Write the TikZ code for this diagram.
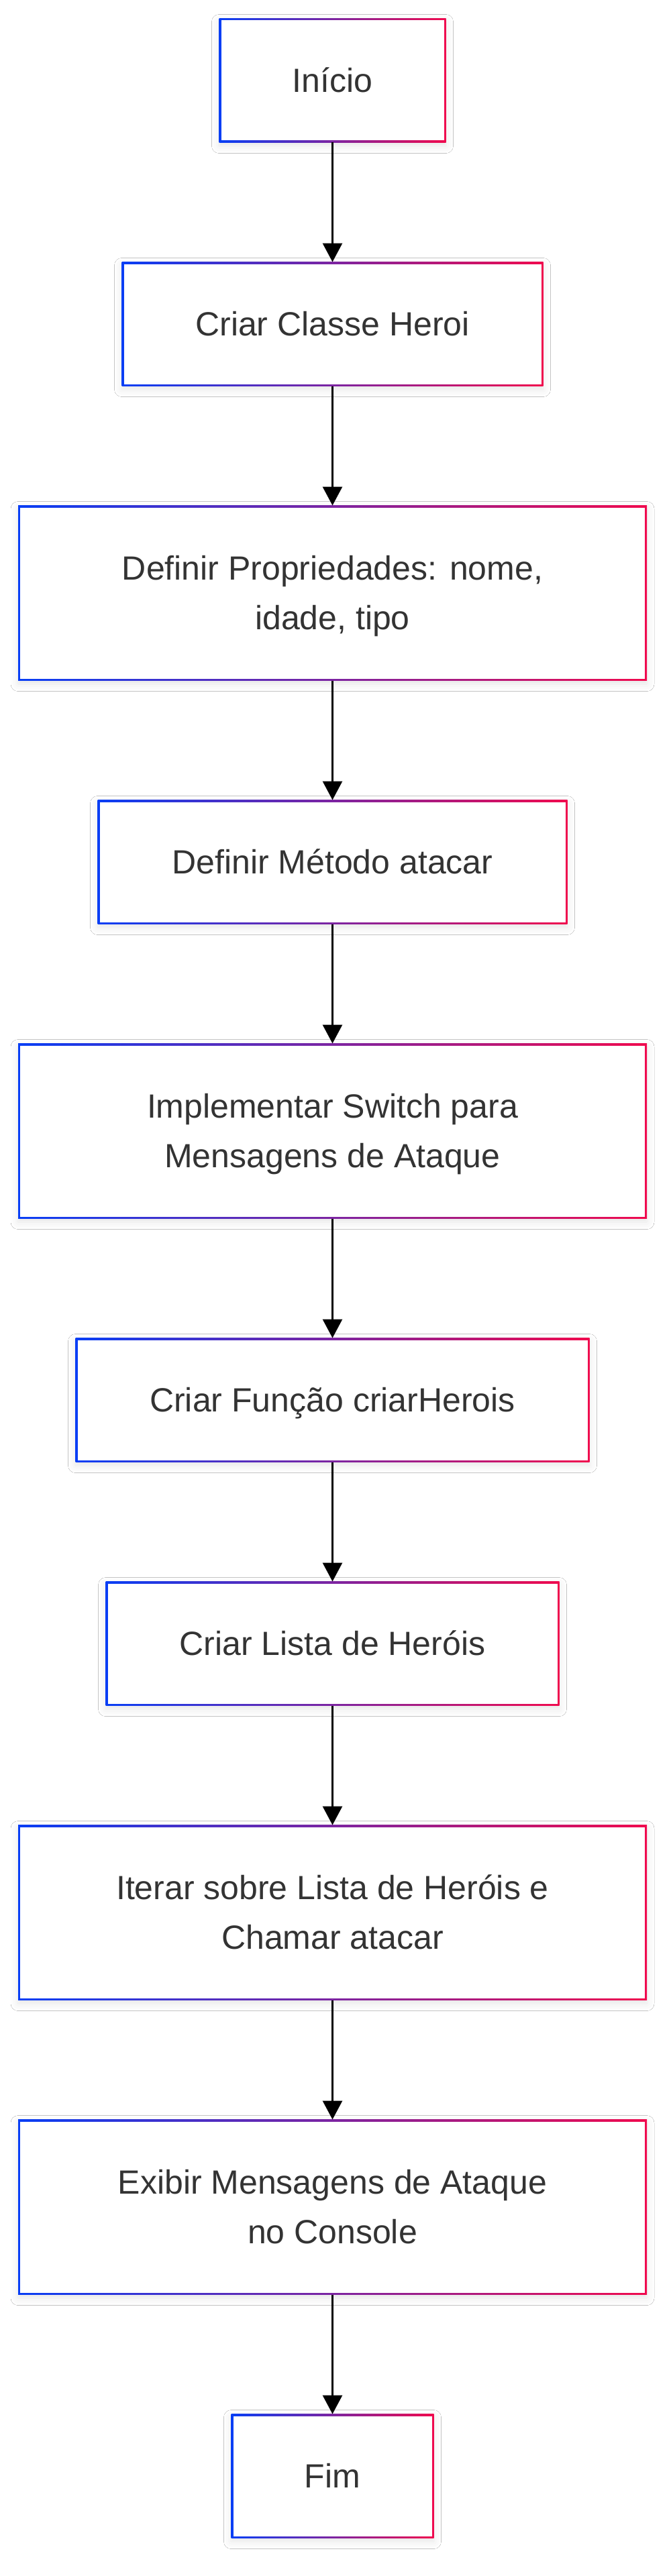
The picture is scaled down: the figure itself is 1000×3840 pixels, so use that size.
\documentclass[tikz,border=0pt]{standalone}
\usepackage{fontspec}
\setmainfont{Liberation Sans}
\usetikzlibrary{arrows.meta,shadows.blur}
\definecolor{cblue}{RGB}{8,62,245}
\definecolor{cred}{RGB}{240,10,78}
\definecolor{tgray}{RGB}{51,51,51}
\newcommand\capbox[1]{\raisebox{0pt}[35.8pt][0pt]{#1}}
\tikzset{
  txt/.style={font=\fontsize{50}{74}\selectfont, text=tgray, inner sep=0pt, outer sep=0pt},
  flowbox/.style={rectangle, inner sep=0pt, outer sep=0pt,
    minimum width=#1, minimum height=185pt, fill=white,
    blur shadow={shadow xshift=0pt, shadow yshift=-5pt, shadow blur radius=11pt, shadow opacity=10},
    path picture={
      \shade[left color=cblue, right color=cred]
        (path picture bounding box.south west) rectangle (path picture bounding box.north east);
      \fill[white]
        ([shift={(3pt,3pt)}]path picture bounding box.south west) rectangle
        ([shift={(-3pt,-3pt)}]path picture bounding box.north east);
    }},
  tallbox/.style={flowbox=#1, minimum height=261pt},
  one/.style={label={[txt]center:{\capbox{#1}}}},
  two/.style 2 args={label={[txt, yshift=37pt]center:{\capbox{#1}}},
                     label={[txt, yshift=-37pt]center:{\capbox{#2}}}},
  arr/.style={draw=black, line width=3pt, -{Triangle[length=28pt, width=29pt]}},
}
\begin{document}
\begin{tikzpicture}[x=1pt, y=-1pt]
\fill[white] (0,0) rectangle (1000,3840);
\useasboundingbox (0,0) rectangle (1000,3840);

\node[flowbox=338pt, one={Início}] (n1) at (495.5,120) {};
\node[flowbox=628pt, one={Criar Classe Heroi}] (n2) at (495.5,483) {};
\node[tallbox=937pt, two={Definir Propriedades: nome,}{idade, tipo}] (n3) at (495.5,884) {};
\node[flowbox=700pt, one={Definir Método atacar}] (n4) at (495.5,1285) {};
\node[tallbox=937pt, two={Implementar Switch para}{Mensagens de Ataque}] (n5) at (495.5,1686) {};
\node[flowbox=766pt, one={Criar Função criarHerois}] (n6) at (495.5,2087) {};
\node[flowbox=676pt, one={Criar Lista de Heróis}] (n7) at (495.5,2450) {};
\node[tallbox=937pt, two={Iterar sobre Lista de Heróis e}{Chamar atacar}] (n8) at (495.5,2851) {};
\node[tallbox=937pt, two={Exibir Mensagens de Ataque}{no Console}] (n9) at (495.5,3290) {};
\node[flowbox=302pt, one={Fim}] (n10) at (495.5,3691) {};

\draw[arr] (n1) -- (n2);
\draw[arr] (n2) -- (n3);
\draw[arr] (n3) -- (n4);
\draw[arr] (n4) -- (n5);
\draw[arr] (n5) -- (n6);
\draw[arr] (n6) -- (n7);
\draw[arr] (n7) -- (n8);
\draw[arr] (n8) -- (n9);
\draw[arr] (n9) -- (n10);
\end{tikzpicture}
\end{document}
